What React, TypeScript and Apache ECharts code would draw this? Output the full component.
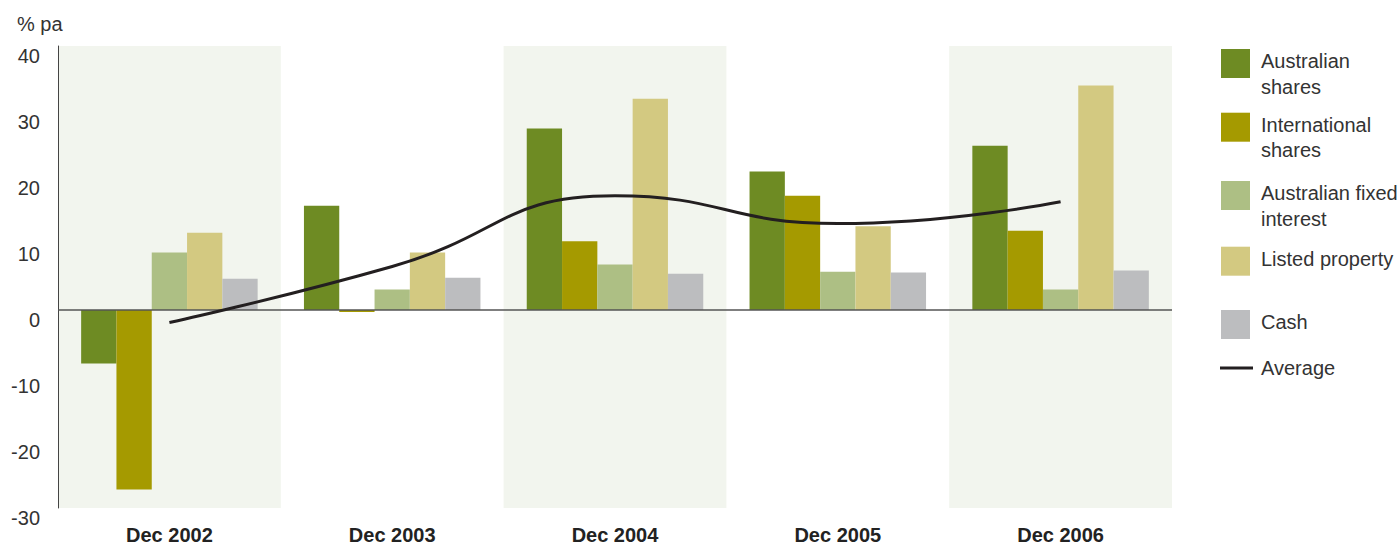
import React, { useEffect, useRef } from "react";
import * as echarts from "echarts";

const categories = ["Dec 2002", "Dec 2003", "Dec 2004", "Dec 2005", "Dec 2006"];
const australianShares = [-8.1, 15.8, 27.5, 21.0, 24.9];
const internationalShares = [-27.2, -0.3, 10.4, 17.3, 12.0];
const australianFixedInterest = [8.7, 3.1, 6.9, 5.8, 3.1];
const listedProperty = [11.7, 8.7, 32.0, 12.7, 34.0];
const cash = [4.75, 4.9, 5.5, 5.7, 6.0];
const average = [-1.9, 6.6, 17.3, 13.1, 16.4];

const seriesNames = [
  "Australian shares",
  "International shares",
  "Australian fixed interest",
  "Listed property",
  "Cash",
  "Average",
];
const legendLabels = [
  "Australian\nshares",
  "International\nshares",
  "Australian fixed\ninterest",
  "Listed property",
  "Cash",
  "Average",
];
const yTicks = { min: -30, max: 40, interval: 10 };
const yUnit = "% pa";

const barColors = ["#6e8b23", "#a59a00", "#adbf84", "#d3c981", "#bcbdbf"];
const lineColor = "#231f20";
const FONT = "'Liberation Sans', Arial, Helvetica, sans-serif";

export default function App() {
  const ref = useRef<HTMLDivElement>(null);

  useEffect(() => {
    if (!ref.current) return;
    const chart = echarts.init(ref.current, undefined, { renderer: "svg" });
    const barData = [
      australianShares,
      internationalShares,
      australianFixedInterest,
      listedProperty,
      cash,
    ];

    const barSeries = barData.map((d, i) => ({
      name: seriesNames[i],
      type: "bar",
      data: d,
      barWidth: 35.3,
      barGap: "0%",
      itemStyle: { color: barColors[i] },
      z: 2,
      ...(i === 0
        ? {
            markLine: {
              silent: true,
              symbol: ["none", "none"],
              z: 5,
              label: { show: false },
              lineStyle: { color: "#555555", width: 1.5, type: "solid" },
              data: [{ yAxis: 0 }],
            },
          }
        : {}),
    }));

    const legendTops = [49, 112.7, 181, 246.7, 310];
    const legendGraphics: any[] = [];
    legendTops.forEach((top, i) => {
      legendGraphics.push({
        type: "rect",
        shape: { x: 1221, y: top, width: 29, height: 29 },
        style: { fill: barColors[i] },
        silent: true,
      });
      legendGraphics.push({
        type: "text",
        x: 1261,
        y: top - 0.75,
        style: {
          text: legendLabels[i],
          font: `20px ${FONT}`,
          fill: "#333333",
          lineHeight: 25.5,
          verticalAlign: "top",
          align: "left",
        },
        silent: true,
      });
    });
    legendGraphics.push({
      type: "line",
      shape: { x1: 1220, y1: 368, x2: 1253, y2: 368 },
      style: { stroke: lineColor, lineWidth: 3 },
      silent: true,
    });
    legendGraphics.push({
      type: "text",
      x: 1261,
      y: 368,
      style: {
        text: legendLabels[5],
        font: `20px ${FONT}`,
        fill: "#333333",
        verticalAlign: "middle",
        align: "left",
      },
      silent: true,
    });
    legendGraphics.push({
      type: "text",
      x: 17,
      y: 24,
      style: {
        text: yUnit,
        font: `20px ${FONT}`,
        fill: "#333333",
        verticalAlign: "middle",
        align: "left",
      },
      silent: true,
    });

    chart.setOption({
      animation: false,
      backgroundColor: "#ffffff",
      textStyle: { fontFamily: FONT },
      grid: { left: 58, right: 228, top: 46, bottom: 37, containLabel: false },
      xAxis: {
        type: "category",
        data: categories,
        position: "bottom",
        axisLine: { show: false, onZero: false },
        axisTick: { show: false },
        axisLabel: {
          fontSize: 20,
          fontWeight: "bold",
          color: "#222222",
          margin: 17,
          fontFamily: FONT,
        },
        splitLine: { show: false },
        splitArea: {
          show: true,
          areaStyle: { color: ["#f2f5ee", "rgba(255,255,255,0)"] },
        },
      },
      yAxis: {
        type: "value",
        min: yTicks.min,
        max: yTicks.max,
        interval: yTicks.interval,
        axisLine: { show: true, lineStyle: { color: "#444444", width: 1 } },
        axisTick: { show: false },
        splitLine: { show: false },
        axisLabel: {
          fontSize: 20,
          color: "#333333",
          margin: 18,
          verticalAlign: "top",
          lineHeight: 20,
          fontFamily: FONT,
        },
      },
      series: [
        ...barSeries,
        {
          name: seriesNames[5],
          type: "line",
          data: average,
          smooth: 0.5,
          symbol: "none",
          z: 10,
          lineStyle: { color: lineColor, width: 3 },
          itemStyle: { color: lineColor },
        },
      ],
      graphic: legendGraphics,
    });

    return () => {
      chart.dispose();
    };
  }, []);

  return (
    <div
      ref={ref}
      style={{ position: "fixed", left: 0, top: 0, width: 1400, height: 545 }}
    />
  );
}
